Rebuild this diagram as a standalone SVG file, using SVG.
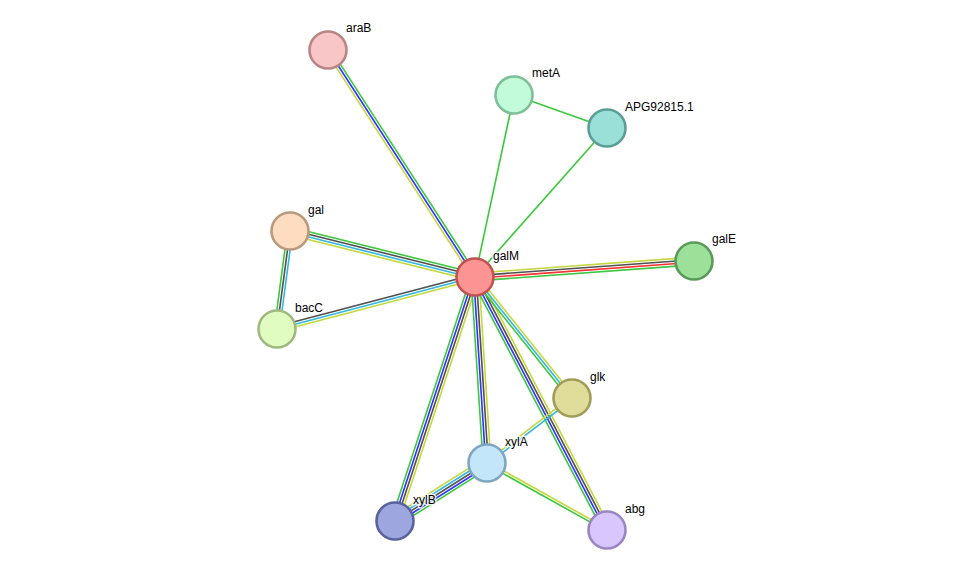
<svg xmlns="http://www.w3.org/2000/svg" width="975" height="576" viewBox="0 0 975 576">
<style>
.g{stroke:#3cc83c}.b{stroke:#3030ff}.k{stroke:#505050}.y{stroke:#c4d83c}.c{stroke:#30b8e0}.r{stroke:#ff3030}
#edges line{stroke-width:1.6;fill:none}
.n{stroke-width:2.6}
text{font-family:"Liberation Sans",Arial,sans-serif;font-size:12px;fill:#000;stroke:#fff;stroke-width:3;stroke-opacity:0.8;paint-order:stroke;stroke-linejoin:round}
</style>
<rect width="975" height="576" fill="#fff"/>
<g id="edges">
  <g transform="translate(475,277) rotate(-122.92)"><line x2="270.4" y1="2.6" y2="2.6" class="g"/><line x2="270.4" class="b"/><line x2="270.4" y1="-2.6" y2="-2.6" class="y"/></g>
  <line x1="475" y1="277" x2="514" y2="95" class="g"/>
  <line x1="475" y1="277" x2="607" y2="128" class="g"/>
  <line x1="514" y1="95" x2="607" y2="128" class="g"/>
  <g transform="translate(475,277) rotate(-4.18)"><line x2="219.6" y1="-3.9" y2="-3.9" class="y"/><line x2="219.6" y1="-1.3" y2="-1.3" class="k"/><line x2="219.6" y1="1.3" y2="1.3" class="r"/><line x2="219.6" y1="3.9" y2="3.9" class="g"/></g>
  <g transform="translate(475,277) rotate(-166.04)"><line x2="190.6" y1="3.9" y2="3.9" class="g"/><line x2="190.6" y1="1.3" y2="1.3" class="k"/><line x2="190.6" y1="-1.3" y2="-1.3" class="c"/><line x2="190.6" y1="-3.9" y2="-3.9" class="y"/></g>
  <g transform="translate(475,277) rotate(165.29)"><line x2="204.7" y1="2.6" y2="2.6" class="k"/><line x2="204.7" class="c"/><line x2="204.7" y1="-2.6" y2="-2.6" class="y"/></g>
  <g transform="translate(290,231) rotate(97.56)"><line x2="98.9" y1="2.6" y2="2.6" class="g"/><line x2="98.9" class="k"/><line x2="98.9" y1="-2.6" y2="-2.6" class="c"/></g>
  <g transform="translate(475,277) rotate(108.15)"><line x2="256.8" y1="3.9" y2="3.9" class="g"/><line x2="256.8" y1="1.3" y2="1.3" class="b"/><line x2="256.8" y1="-1.3" y2="-1.3" class="k"/><line x2="256.8" y1="-3.9" y2="-3.9" class="y"/></g>
  <g transform="translate(475,277) rotate(86.31)"><line x2="186.4" y1="3.9" y2="3.9" class="g"/><line x2="186.4" y1="1.3" y2="1.3" class="b"/><line x2="186.4" y1="-1.3" y2="-1.3" class="k"/><line x2="186.4" y1="-3.9" y2="-3.9" class="y"/></g>
  <g transform="translate(475,277) rotate(62.45)"><line x2="285.4" y1="3.9" y2="3.9" class="g"/><line x2="285.4" y1="1.3" y2="1.3" class="b"/><line x2="285.4" y1="-1.3" y2="-1.3" class="k"/><line x2="285.4" y1="-3.9" y2="-3.9" class="y"/></g>
  <g transform="translate(475,277) rotate(51.28)"><line x2="155.1" y1="2.6" y2="2.6" class="g"/><line x2="155.1" class="c"/><line x2="155.1" y1="-2.6" y2="-2.6" class="y"/></g>
  <g transform="translate(572,398) rotate(142.59)"><line x2="107" y1="1.3" y2="1.3" class="y"/><line x2="107" y1="-1.3" y2="-1.3" class="c"/></g>
  <g transform="translate(487,463) rotate(147.77)"><line x2="108.8" y1="5.2" y2="5.2" class="y"/><line x2="108.8" y1="2.6" y2="2.6" class="c"/><line x2="108.8" class="k"/><line x2="108.8" y1="-2.6" y2="-2.6" class="b"/><line x2="108.8" y1="-5.2" y2="-5.2" class="g"/></g>
  <g transform="translate(487,463) rotate(29.17)"><line x2="137.4" y1="-1.3" y2="-1.3" class="y"/><line x2="137.4" y1="1.3" y2="1.3" class="g"/></g>
</g>
<g id="araB"><circle class="n" cx="328" cy="50" r="18.5" fill="#f8c6c6" stroke="#b88484"/><text x="346" y="32">araB</text></g>
<g id="metA"><circle class="n" cx="514" cy="95" r="18.5" fill="#c2fbd9" stroke="#7fbf97"/><text x="532" y="77">metA</text></g>
<g id="APG92815.1"><circle class="n" cx="607" cy="128" r="18.5" fill="#9ae0d8" stroke="#5a9e96"/><text x="625" y="111">APG92815.1</text></g>
<g id="gal"><circle class="n" cx="290" cy="231" r="18.5" fill="#fddcbf" stroke="#b89a7c"/><text x="308" y="214">gal</text></g>
<g id="galM"><circle class="n" cx="475" cy="277" r="18.5" fill="#fd9494" stroke="#c05252"/><text x="493" y="260">galM</text></g>
<g id="galE"><circle class="n" cx="694" cy="261" r="18.5" fill="#9de09a" stroke="#5a9a58"/><text x="712" y="243">galE</text></g>
<g id="bacC"><circle class="n" cx="277" cy="329" r="18.5" fill="#e1fcc0" stroke="#a0b982"/><text x="295" y="312">bacC</text></g>
<g id="glk"><circle class="n" cx="572" cy="398" r="18.5" fill="#e0dc9a" stroke="#a09c5a"/><text x="590" y="381">glk</text></g>
<g id="xylA"><circle class="n" cx="487" cy="463" r="18.5" fill="#c3e6fb" stroke="#7fa6bf"/><text x="505" y="446">xylA</text></g>
<g id="xylB"><circle class="n" cx="395" cy="521" r="18.5" fill="#9da6de" stroke="#5a629e"/><text x="413" y="504">xylB</text></g>
<g id="abg"><circle class="n" cx="607" cy="530" r="18.5" fill="#d7c7fd" stroke="#9a86c0"/><text x="625" y="513">abg</text></g>
</svg>
